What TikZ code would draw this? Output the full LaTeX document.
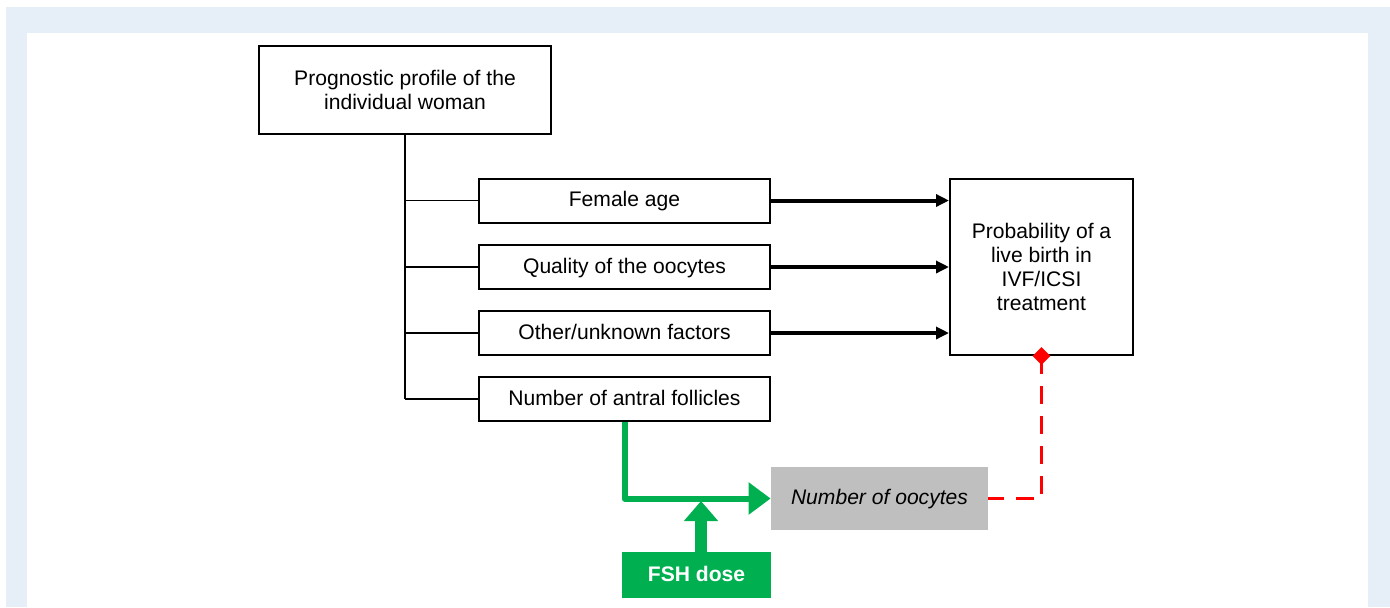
\documentclass[tikz,border=0pt]{standalone}
\usepackage{fontspec}
\setmainfont{Liberation Sans}
\usetikzlibrary{arrows.meta,shapes.geometric}
\definecolor{framebg}{RGB}{230,238,248}
\definecolor{fshgreen}{RGB}{0,176,80}
\definecolor{oocgrey}{RGB}{191,191,191}
\definecolor{linkred}{RGB}{255,0,0}
\begin{document}
\begin{tikzpicture}[
    every node/.style={font=\fontsize{12}{13.6}\selectfont},
    oneline/.style={text height=0.72em, text depth=0em},
    factorbox/.style={draw, oneline, line width=0.04cm, minimum width=5.82cm, minimum height=0.88cm, inner sep=0},
    blackarrow/.style={line width=0.08cm, -{Triangle[length=0.26cm,width=0.24cm]}},
    greenarrow/.style={draw=fshgreen, line width=0.12cm, line join=round, -{Triangle[length=0.44cm,width=0.62cm]}},
    redlink/.style={draw=linkred, line width=0.06cm, dash pattern=on 0.36cm off 0.24cm}
  ]
  % Frame and white sheet
  \useasboundingbox (0,0) rectangle (27.80,-12.14);
  \fill [framebg] (0.12,-0.14) rectangle (27.80,-12.14);
  \fill [white] (0.54,-0.66) rectangle (27.36,-12.14);

  % Prognostic profile box
  \node [draw, line width=0.04cm, minimum width=5.84cm, minimum height=1.76cm, align=center] (profile) at (8.10,-1.80) {Prognostic profile of the\\individual woman};

  % Factor boxes
  \node [factorbox] (age) at (12.49,-4.01) {Female age};
  \node [factorbox] (quality) at (12.49,-5.34) {Quality of the oocytes};
  \node [factorbox] (other) at (12.49,-6.66) {Other/unknown factors};
  \node [factorbox] (antral) at (12.49,-7.98) {Number of antral follicles};

  % Outcome box
  \node [draw, line width=0.04cm, minimum width=3.66cm, minimum height=3.52cm, align=center] (birth) at (20.83,-5.34) {Probability of a\\live birth in\\IVF/ICSI\\treatment};

  % Number of oocytes and FSH dose
  \node [fill=oocgrey, oneline, minimum width=4.34cm, minimum height=1.26cm] (oocytes) at (17.59,-9.97) {\itshape Number of oocytes};
  \node [fill=fshgreen, oneline, text=white, minimum width=2.98cm, minimum height=0.92cm] (fsh) at (13.93,-11.50) {\bfseries FSH dose};

  % Tree from the profile box to the factors
  \draw [line width=0.03cm] (profile.south) -- (profile.south |- antral.west);
  \foreach \f in {age,quality,other,antral}
    \draw [line width=0.03cm] (profile.south |- \f.west) -- (\f.west);

  % Black arrows to the outcome
  \foreach \f in {age,quality,other}
    \draw [blackarrow] (\f.east) -- (\f.east -| birth.west);

  % Green arrows
  \draw [greenarrow] (antral.south) -- (antral.south |- oocytes.west) -- (oocytes.west);
  \coordinate (fshfoot) at (14.02,-11.04);
  \coordinate (fshjoin) at (14.02,-10.02);
  \draw [draw=fshgreen, line width=0.24cm, -{Triangle[length=0.40cm,width=0.66cm]}] (fshfoot) -- (fshjoin);

  % Red dashed link
  \draw [redlink] (birth.south) -- (birth.south |- oocytes.east) -- (oocytes.east);
  \node [diamond, fill=linkred, inner sep=0, minimum size=0.36cm] (tip) at (birth.south) {};
\end{tikzpicture}
\end{document}
